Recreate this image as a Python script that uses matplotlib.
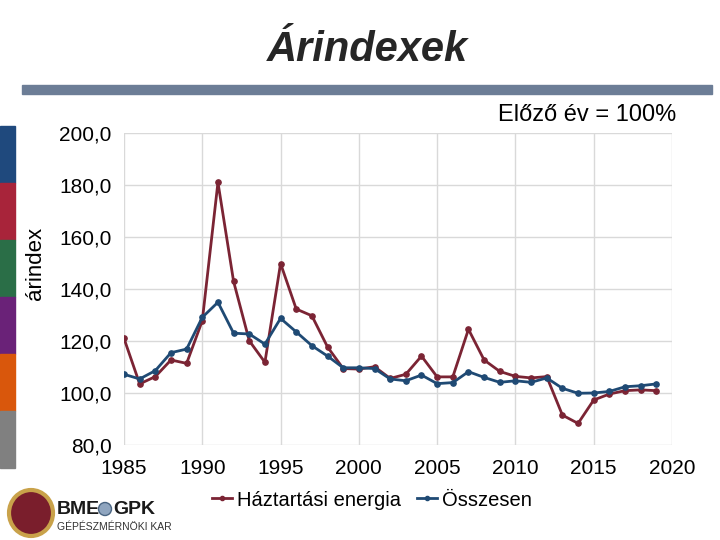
import matplotlib
matplotlib.use("Agg")
import matplotlib.pyplot as plt
from matplotlib.patches import Rectangle, Ellipse
from matplotlib.lines import Line2D

plt.rcParams['font.family'] = ['Liberation Sans', 'DejaVu Sans']

years = list(range(1985, 2020))
haztartasi = [121.0, 103.5, 106.3, 112.7, 111.4, 127.8, 181.0, 142.9, 120.1, 111.8,
              149.8, 132.3, 129.7, 117.7, 109.4, 109.2, 110.1, 105.6, 107.2, 114.2,
              106.2, 106.2, 124.5, 112.7, 108.3, 106.4, 105.8, 106.3, 91.5, 88.3,
              97.3, 99.6, 100.9, 101.2, 100.9]
osszesen = [107.2, 105.4, 108.6, 115.5, 116.9, 129.1, 134.9, 123.0, 122.7, 118.8,
            128.7, 123.5, 118.2, 114.2, 109.7, 109.7, 109.4, 105.4, 104.7, 106.9,
            103.6, 104.0, 108.2, 106.0, 104.1, 104.7, 104.1, 105.8, 101.8, 99.9,
            100.0, 100.6, 102.4, 102.8, 103.5]
xticks = [1985, 1990, 1995, 2000, 2005, 2010, 2015, 2020]
yticks = [80, 100, 120, 140, 160, 180, 200]
ytick_labels = ["80,0", "100,0", "120,0", "140,0", "160,0", "180,0", "200,0"]
series_names = ["Háztartási energia", "Összesen"]
strip_colors = ["#1F497D", "#A8243A", "#2A6E47", "#6A2278", "#D9570C", "#808080"]

red = "#7B2434"
blue = "#1F4A74"

fig = plt.figure(figsize=(7.2, 5.4), dpi=100)
W, H = 720, 540

def fx(px):
    return px / W

def fy(py):
    return 1 - py / H

# left colour strip
top = 126
hseg = (468 - 126) / len(strip_colors)
for i, c in enumerate(strip_colors):
    fig.patches.append(Rectangle((0, fy(top + (i + 1) * hseg)), fx(15), hseg / H,
                                 transform=fig.transFigure, color=c, zorder=0))

# top bar
fig.patches.append(Rectangle((fx(22), fy(94)), fx(712 - 22), 9 / H,
                             transform=fig.transFigure, color="#6C7D96", zorder=0))

fig.text(fx(367), fy(50), "Árindexek", ha="center", va="center", fontsize=30,
         fontweight="bold", fontstyle="italic", color="#262626")
fig.text(fx(676), fy(115), "Előző év = 100%", ha="right", va="center", fontsize=17,
         color="#000000")

ax = fig.add_axes([fx(124), fy(445), fx(672 - 124), (445 - 133) / H])
ax.plot(years, haztartasi, color=red, lw=2.0, marker="o", ms=3.8, label=series_names[0], zorder=3)
ax.plot(years, osszesen, color=blue, lw=2.0, marker="o", ms=3.8, label=series_names[1], zorder=3)
ax.set_xlim(1985, 2020)
ax.set_ylim(80, 200)
ax.set_xticks(xticks)
ax.set_yticks(yticks)
ax.set_yticklabels(ytick_labels)
ax.grid(True, color="#D9D9D9", lw=1)
ax.set_axisbelow(True)
for s in ax.spines.values():
    s.set_visible(False)
ax.tick_params(length=0, labelsize=15)
ax.tick_params(axis="y", pad=9)
ax.tick_params(axis="x", pad=10)
fig.text(fx(35), fy(263), "árindex", rotation=90, ha="center", va="center", fontsize=16)

handles = [Line2D([], [], color=red, lw=2.0, marker="o", ms=3.0),
           Line2D([], [], color=blue, lw=2.0, marker="o", ms=3.0)]
fig.legend(handles, series_names, loc="center", bbox_to_anchor=(fx(372), fy(500)),
           ncol=2, frameon=False, fontsize=14.5, handlelength=1.0, handletextpad=0.25,
           columnspacing=0.8)

# logo approximation
fig.patches.append(Ellipse((fx(31), fy(513)), fx(44), 46 / H, transform=fig.transFigure,
                           facecolor="#7A1E2C", edgecolor="#C9A24A", lw=3, zorder=1))
fig.text(fx(57), fy(510), "BME", fontsize=14, fontweight="bold", color="#1A1A1A",
         ha="left", va="center")
fig.patches.append(Ellipse((fx(105), fy(509)), fx(13), 13 / H, transform=fig.transFigure,
                           facecolor="#8FA5BF", edgecolor="#4A6582", lw=1, zorder=1))
fig.text(fx(113), fy(510), "GPK", fontsize=14, fontweight="bold", color="#1A1A1A",
         ha="left", va="center")
fig.text(fx(57), fy(527), "GÉPÉSZMÉRNÖKI KAR", fontsize=7.5, color="#333333",
         ha="left", va="center")

fig.savefig("out.png", dpi=100)
